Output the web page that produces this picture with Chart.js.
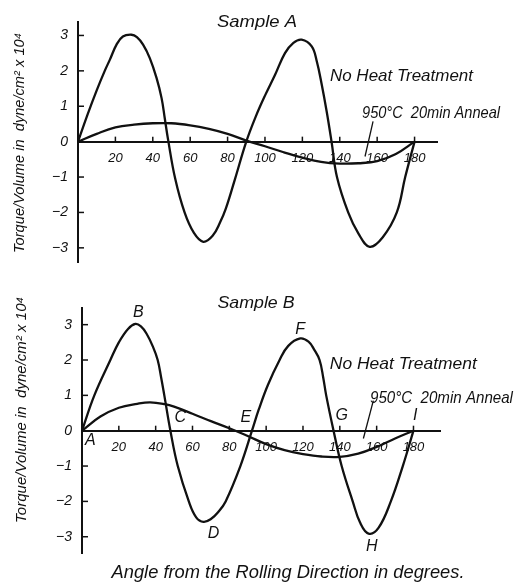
<!DOCTYPE html>
<html>
<head>
<meta charset="utf-8">
<script src="https://cdn.jsdelivr.net/npm/chart.js@4"></script>
<style>
  html, body { margin: 0; padding: 0; background: #fff; }
  .panel { position: absolute; left: 0; width: 514px; }
  #pa { top: 0; height: 290px; }
  #pb { top: 290px; height: 296px; }
  canvas { display: block; }
</style>
</head>
<body>
<div class="panel" id="pa"><canvas id="ca" width="514" height="290"></canvas></div>
<div class="panel" id="pb"><canvas id="cb" width="514" height="296"></canvas></div>
<script>
// ---------- DATA ----------
const xTicks = [20, 40, 60, 80, 100, 120, 140, 160, 180];
const yTicks = [-3, -2, -1, 0, 1, 2, 3];

// Sample A, no heat treatment
const aNoHeatAngle = [0, 5, 10, 14.3, 17, 20.6, 24, 28.6, 31.5, 34.8, 38.4, 42, 44.7, 46.4, 48.2, 52, 57, 62, 67, 72, 76, 79, 84, 90,
                      95, 100, 105.4, 110.7, 115.2, 119.6, 125, 127.7, 130.4, 133, 135.6, 138.5, 144.5, 150, 156, 163, 170.5, 175, 180];
const aNoHeatValue = [0, 0.75, 1.45, 2.0, 2.31, 2.74, 2.97, 3.02, 2.95, 2.74, 2.36, 1.8, 1.23, 0.66, 0.05, -1.05, -2.0, -2.58, -2.83, -2.66, -2.28, -1.9, -1.05, 0,
                      0.7, 1.3, 1.89, 2.5, 2.79, 2.88, 2.69, 2.27, 1.6, 0.85, 0, -1.0, -2.0, -2.6, -2.97, -2.7, -2.0, -1.0, 0];
// Sample A, 950°C 20 min anneal
const aAnnealAngle = [0, 10, 20, 30, 40, 50, 60, 70, 80, 90, 100, 110, 120, 130, 140, 150, 160, 170, 180];
const aAnnealValue = [0, 0.22, 0.4, 0.48, 0.52, 0.52, 0.46, 0.36, 0.22, 0.03, -0.13, -0.3, -0.45, -0.57, -0.62, -0.61, -0.55, -0.35, 0];

// Sample B, no heat treatment
const bNoHeatAngle = [0, 6.7, 15.4, 20, 25, 29, 32, 35, 38.5, 41.1, 43, 44.7, 48, 52, 58, 62, 66, 70, 74, 78, 86, 92.3,
                      96, 101, 107.3, 112, 118.5, 123, 126, 129, 131, 132.6, 136.6, 141, 147, 151, 155.6, 161, 167.7, 174.2, 180];
const bNoHeatValue = [0, 1.0, 2.0, 2.5, 2.88, 3.02, 2.95, 2.75, 2.38, 2.0, 1.5, 1.0, 0, -1.0, -2.0, -2.45, -2.58, -2.5, -2.3, -2.0, -1.0, 0,
                      0.6, 1.3, 2.0, 2.4, 2.61, 2.52, 2.3, 2.0, 1.5, 1.0, 0, -1.0, -2.0, -2.6, -2.91, -2.75, -2.0, -1.0, 0];
// Sample B, 950°C 20 min anneal
const bAnnealAngle = [0, 10, 20, 30, 37, 45, 50, 60, 70, 80, 90, 100, 110, 120, 130, 140, 150, 160, 170, 180];
const bAnnealValue = [0, 0.4, 0.65, 0.76, 0.8, 0.75, 0.68, 0.48, 0.27, 0.07, -0.15, -0.38, -0.55, -0.66, -0.73, -0.74, -0.65, -0.46, -0.22, 0];

// Point letters on Sample B (angle, value)
const bLetters = ['A', 'B', 'C', 'D', 'E', 'F', 'G', 'H', 'I'];
const bLetterAngle = [4.5, 30.6, 53.4, 71.4, 89, 118.5, 141, 157.3, 180.9];
const bLetterValue = [-0.28, 3.33, 0.37, -2.91, 0.37, 2.86, 0.42, -3.29, 0.42];

const seriesNames = ['No Heat Treatment', '950\u00B0C  20min Anneal'];
const yTitle = 'Torque/Volume in  dyne/cm\u00B2 x 10\u2074';
const xTitle = 'Angle from the Rolling Direction in degrees.';

// ---------- DRAWING ----------
const INK = '#111';
const FAMILY = '"Liberation Sans", "DejaVu Sans", Arial, sans-serif';

function pts(xs, ys) { return xs.map((x, i) => ({ x: x, y: ys[i] })); }

function fitText(ctx, text, x, y, width, size, rot) {
  ctx.save();
  ctx.translate(x, y);
  if (rot) ctx.rotate(rot);
  ctx.font = 'italic ' + size + 'px ' + FAMILY;
  ctx.fillStyle = INK;
  ctx.textAlign = 'center';
  ctx.textBaseline = 'middle';
  if (width) {
    const m = ctx.measureText(text).width;
    ctx.scale(width / m, 1);
  }
  ctx.fillText(text, 0, 0);
  ctx.restore();
}

function makeChart(canvasId, cfg) {
  const decor = {
    id: 'decor',
    afterDraw(chart) {
      const ctx = chart.ctx;
      const xs = chart.scales.x, ys = chart.scales.y;
      const y0 = ys.getPixelForValue(0);
      const x0 = xs.getPixelForValue(0);
      ctx.save();
      ctx.strokeStyle = INK;
      ctx.lineWidth = 1.5;
      // upward tick marks on x axis
      xTicks.forEach(v => {
        const px = xs.getPixelForValue(v);
        ctx.beginPath(); ctx.moveTo(px, y0); ctx.lineTo(px, y0 - 5); ctx.stroke();
      });
      // right-facing tick marks on y axis
      yTicks.forEach(v => {
        if (v === 0) return;
        const py = ys.getPixelForValue(v);
        ctx.beginPath(); ctx.moveTo(x0, py); ctx.lineTo(x0 + 6, py); ctx.stroke();
      });
      // leader line to anneal curve
      const L = cfg.leader;
      ctx.lineWidth = 1.3;
      ctx.beginPath();
      ctx.moveTo(xs.getPixelForValue(L[0]), ys.getPixelForValue(L[1]));
      ctx.lineTo(xs.getPixelForValue(L[2]), ys.getPixelForValue(L[3]));
      ctx.stroke();
      ctx.restore();
      // series labels (data coordinates)
      cfg.labels.forEach(l => {
        fitText(ctx, l.text, xs.getPixelForValue(l.x), ys.getPixelForValue(l.y), l.w, 17, 0);
      });
      // point letters
      (cfg.letters || []).forEach(l => {
        fitText(ctx, l.text, xs.getPixelForValue(l.x), ys.getPixelForValue(l.y), null, 16, 0);
      });
      // titles
      const t = cfg.title;
      fitText(ctx, t.text, t.x, t.y, t.w, 17, 0);
      const yt = cfg.yTitle;
      fitText(ctx, yTitle, yt.x, yt.y, yt.w, 15, -Math.PI / 2);
      if (cfg.xTitle) {
        const xt = cfg.xTitle;
        fitText(ctx, xTitle, xt.x, xt.y, xt.w, 18, 0);
      }
    }
  };

  const lineStyle = {
    borderColor: INK,
    borderWidth: 2.3,
    pointRadius: 0,
    fill: false,
    tension: 0.4
  };

  return new Chart(document.getElementById(canvasId), {
    type: 'line',
    data: {
      datasets: [
        Object.assign({ label: seriesNames[0], data: pts(cfg.d1x, cfg.d1y) }, lineStyle),
        Object.assign({ label: seriesNames[1], data: pts(cfg.d2x, cfg.d2y) }, lineStyle)
      ]
    },
    options: {
      responsive: false,
      animation: false,
      layout: { padding: cfg.padding },
      plugins: { legend: { display: false }, tooltip: { enabled: false }, title: { display: false } },
      scales: {
        x: {
          type: 'linear',
          position: { y: 0 },
          min: 0,
          max: cfg.xMax,
          afterBuildTicks: s => { s.ticks = xTicks.map(v => ({ value: v })); },
          afterFit: s => { s.height = 0; },
          grid: { display: true, drawOnChartArea: false, drawTicks: false },
          border: { display: true, color: INK, width: 2 },
          ticks: {
            color: INK,
            padding: 9,
            maxRotation: 0,
            autoSkip: false,
            font: { family: FAMILY, size: 13, style: 'italic' },
            callback: v => String(v)
          }
        },
        y: {
          type: 'linear',
          position: 'left',
          min: cfg.yMin,
          max: cfg.yMax,
          afterBuildTicks: s => { s.ticks = yTicks.map(v => ({ value: v })); },
          afterFit: s => { s.width = cfg.yAxisWidth; },
          grid: { display: true, drawOnChartArea: false, drawTicks: false },
          border: { display: true, color: INK, width: 2 },
          ticks: {
            color: INK,
            padding: 10,
            autoSkip: false,
            font: { family: FAMILY, size: 14, style: 'italic' },
            callback: v => (v < 0 ? '\u2212' + Math.abs(v) : String(v))
          }
        }
      }
    },
    plugins: [decor]
  });
}

makeChart('ca', {
  d1x: aNoHeatAngle, d1y: aNoHeatValue,
  d2x: aAnnealAngle, d2y: aAnnealValue,
  padding: { left: 0, right: 77, top: 22, bottom: 28 },
  yAxisWidth: 78,
  xMax: 192, yMin: -3.4, yMax: 3.38,
  leader: [157.8, 0.57, 153.5, -0.42],
  labels: [
    { text: seriesNames[0], x: 173, y: 1.86, w: 143 },
    { text: seriesNames[1], x: 188.8, y: 0.81, w: 138 }
  ],
  title: { text: 'Sample A', x: 257, y: 22, w: 80 },
  yTitle: { x: 20, y: 143, w: 220 }
});

makeChart('cb', {
  d1x: bNoHeatAngle, d1y: bNoHeatValue,
  d2x: bAnnealAngle, d2y: bAnnealValue,
  padding: { left: 0, right: 74, top: 17, bottom: 33 },
  yAxisWidth: 82,
  xMax: 194.4, yMin: -3.46, yMax: 3.46,
  leader: [158.2, 0.85, 152.8, -0.22],
  labels: [
    { text: seriesNames[0], x: 174.5, y: 1.89, w: 147 },
    { text: seriesNames[1], x: 195.2, y: 0.93, w: 143 }
  ],
  letters: bLetters.map((t, i) => ({ text: t, x: bLetterAngle[i], y: bLetterValue[i] })),
  title: { text: 'Sample B', x: 256, y: 13, w: 77 },
  yTitle: { x: 22, y: 120, w: 226 },
  xTitle: { x: 288, y: 283, w: 353 }
});
</script>
</body>
</html>
